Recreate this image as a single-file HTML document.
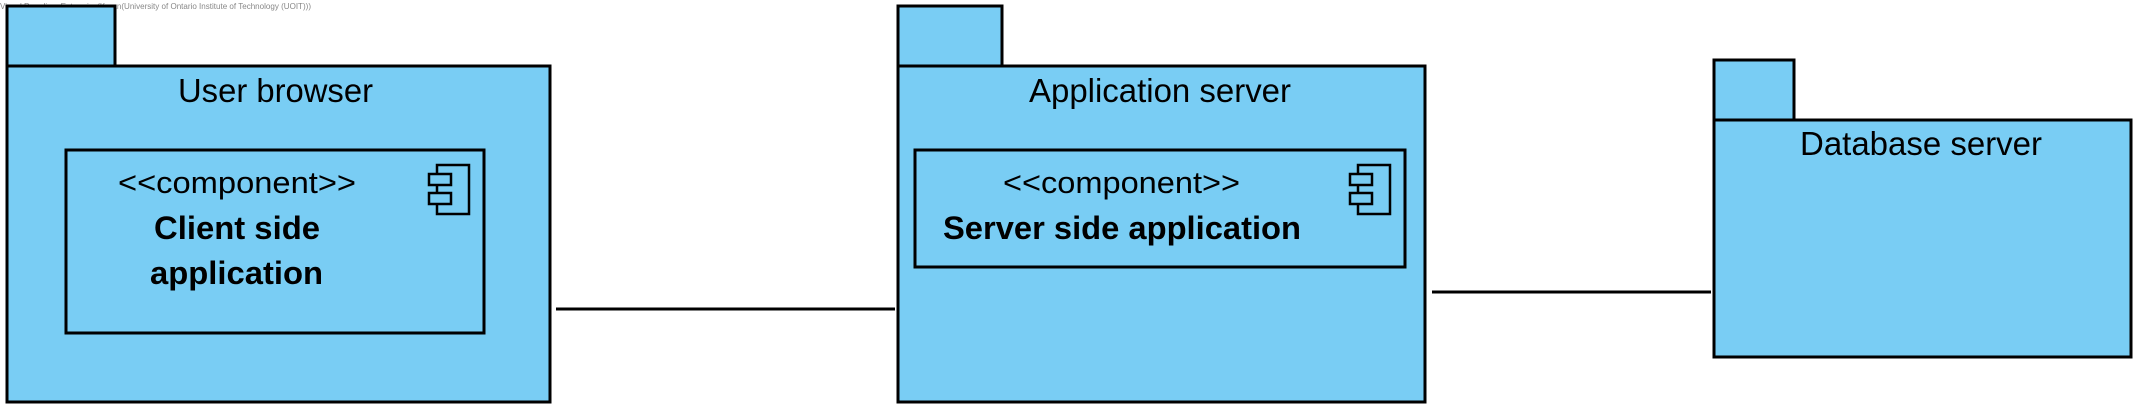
<!DOCTYPE html>
<html><head><meta charset="utf-8"><style>html,body{margin:0;padding:0;background:#fff}svg{display:block}</style></head>
<body>
<svg width="2145" height="417" viewBox="0 0 2145 417" xmlns="http://www.w3.org/2000/svg" font-family="Liberation Sans, Arial, sans-serif">
<text x="0" y="9" font-size="8" fill="#888" textLength="311" lengthAdjust="spacingAndGlyphs">Visual Paradigm Enterprise(Karan(University of Ontario Institute of Technology (UOIT)))</text>
<g fill="#79cdf4" stroke="#000" stroke-width="3">
<rect x="7" y="6" width="108" height="60"/>
<rect x="7" y="66" width="543" height="336"/>
<rect x="66" y="150" width="418" height="183"/>
<rect x="898" y="6" width="104" height="60"/>
<rect x="898" y="66" width="527" height="336"/>
<rect x="915" y="150" width="490" height="117"/>
<rect x="1714" y="60" width="80" height="60"/>
<rect x="1714" y="120" width="417" height="237"/>
</g>
<g fill="#79cdf4" stroke="#000" stroke-width="2.5">
<rect x="437" y="165" width="32" height="49"/>
<rect x="429" y="174" width="22" height="11"/>
<rect x="429" y="193" width="22" height="11"/>
<rect x="1358" y="165" width="32" height="49"/>
<rect x="1350" y="174" width="22" height="11"/>
<rect x="1350" y="193" width="22" height="11"/>
</g>
<g stroke="#000" stroke-width="3">
<line x1="556" y1="309" x2="895" y2="309"/>
<line x1="1432" y1="292" x2="1711" y2="292"/>
</g>
<g fill="#000" lengthAdjust="spacingAndGlyphs">
<text x="178" y="102" font-size="33" textLength="195" lengthAdjust="spacingAndGlyphs">User browser</text>
<text x="1029" y="102" font-size="33" textLength="262" lengthAdjust="spacingAndGlyphs">Application server</text>
<text x="1800" y="155" font-size="33" textLength="242" lengthAdjust="spacingAndGlyphs">Database server</text>
<text x="118" y="193" font-size="31" textLength="238" lengthAdjust="spacingAndGlyphs">&lt;&lt;component&gt;&gt;</text>
<text x="154" y="239" font-size="32" font-weight="bold" textLength="166" lengthAdjust="spacingAndGlyphs">Client side</text>
<text x="150" y="284" font-size="32" font-weight="bold" textLength="173" lengthAdjust="spacingAndGlyphs">application</text>
<text x="1003" y="193" font-size="31" textLength="237" lengthAdjust="spacingAndGlyphs">&lt;&lt;component&gt;&gt;</text>
<text x="943" y="239" font-size="32" font-weight="bold" textLength="358" lengthAdjust="spacingAndGlyphs">Server side application</text>
</g>
</svg>
</body></html>
